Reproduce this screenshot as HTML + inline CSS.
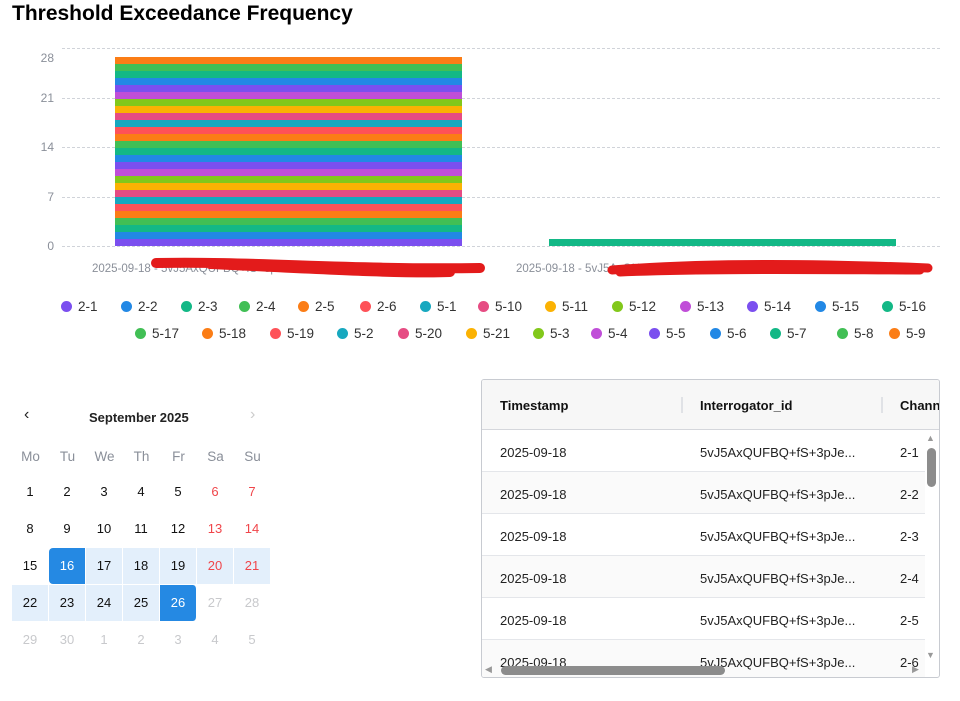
<!DOCTYPE html>
<html><head><meta charset="utf-8"><style>
*{margin:0;padding:0;box-sizing:border-box}
body{width:960px;height:701px;background:#fff;font-family:"Liberation Sans",sans-serif;position:relative;overflow:hidden;color:#222}
.a{position:absolute}
.yl{position:absolute;left:30px;width:24px;text-align:right;font-size:12px;color:#8a8f99}
.grid{position:absolute;left:62px;width:878px;border-top:1px dashed #d0d3d9}
.leg{position:absolute;font-size:13.5px;color:#333;white-space:nowrap}
.leg i{display:inline-block;width:11px;height:11px;border-radius:50%;margin-right:6px;vertical-align:-1px}
.cal{position:absolute;width:37px;height:36px;line-height:36px;text-align:center;font-size:13px}
.th{position:absolute;font-size:13px;font-weight:bold;color:#111}
.td{position:absolute;font-size:13px;color:#222}
</style></head><body>
<div class="a" style="left:12px;top:2px;font-size:21px;font-weight:bold;color:#000">Threshold Exceedance Frequency</div>

<div class="grid" style="top:48px"></div>
<div class="grid" style="top:98px"></div>
<div class="grid" style="top:147px"></div>
<div class="grid" style="top:197px"></div>
<div class="grid" style="top:246px"></div>
<div class="yl" style="top:51px">28</div>
<div class="yl" style="top:91px">21</div>
<div class="yl" style="top:140px">14</div>
<div class="yl" style="top:190px">7</div>
<div class="yl" style="top:239px">0</div>

<div class="a" id="bar" style="left:115px;top:57px;width:347px;height:189px;display:flex;flex-direction:column-reverse"></div>
<div class="a" style="left:549px;top:239px;width:347px;height:7px;background:#13b886"></div>

<div class="a" style="left:92px;top:263px;font-size:11.5px;color:#8a8f99">2025-09-18 - 5vJ5AxQUFBQ+fS+3pJe</div>
<div class="a" style="left:516px;top:263px;font-size:11.5px;color:#8a8f99">2025-09-18 - 5vJ5AxQUFBQ+fS+3pJe</div>
<svg class="a" style="left:150px;top:256px" width="800" height="30"><path d="M6 7 C100 5 200 14 330 12 M60 8 C150 12 250 18 300 16" stroke="#e31b1b" stroke-width="10" fill="none" stroke-linecap="round"/><path d="M462 14 C560 6 680 8 778 12 M470 16 C560 12 700 14 770 14" stroke="#e31b1b" stroke-width="9" fill="none" stroke-linecap="round"/></svg>

<div id="legend"></div>

<div class="a" style="left:24px;top:406px;font-size:16px">‹</div>
<div class="a" style="left:89px;top:410px;font-size:13px;font-weight:bold">September 2025</div>
<div class="a" style="left:250px;top:406px;font-size:16px;color:#ccc">›</div>
<div id="cal"></div>

<div class="a" style="left:481px;top:379px;width:459px;height:299px;border:1px solid #c8cbd1;border-radius:3px;overflow:hidden">
 <div class="a" style="left:0;top:0;width:459px;height:50px;background:#f7f7f7;border-bottom:1px solid #d5d7dc"></div>
 <div class="th" style="left:18px;top:18px">Timestamp</div>
 <div class="a" style="left:199px;top:17px;width:2px;height:16px;background:#e0e2e6"></div>
 <div class="th" style="left:218px;top:18px">Interrogator_id</div>
 <div class="a" style="left:399px;top:17px;width:2px;height:16px;background:#e0e2e6"></div>
 <div class="th" style="left:418px;top:18px">Chann</div>
 <div id="rows"></div>
 <div class="a" style="left:444px;top:53px;font-size:9px;color:#999">▲</div>
 <div class="a" style="left:445px;top:68px;width:9px;height:39px;border-radius:5px;background:#8c8c8c"></div>
 <div class="a" style="left:444px;top:270px;font-size:9px;color:#999">▼</div>
 <div class="a" style="left:3px;top:284px;font-size:9px;color:#999">◀</div>
 <div class="a" style="left:19px;top:286px;width:224px;height:9px;border-radius:5px;background:#8c8c8c"></div>
 <div class="a" style="left:430px;top:284px;font-size:9px;color:#999">▶</div>
</div>

<script>
var pal=["#7b4fef","#2288e5","#13b886","#41bf55","#fb7d16","#fe5258","#17a8bf","#e64c83","#fbb203","#82c81b","#c04ed8"];
var bar=document.getElementById('bar');
for(var i=0;i<27;i++){var d=document.createElement('div');d.style.cssText='height:7px;background:'+pal[i%11];bar.appendChild(d);}
var names=["2-1","2-2","2-3","2-4","2-5","2-6","5-1","5-10","5-11","5-12","5-13","5-14","5-15","5-16","5-17","5-18","5-19","5-2","5-20","5-21","5-3","5-4","5-5","5-6","5-7","5-8","5-9"];
var r1x=[67,127,187,245,304,366,426,484,551,618,686,753,821,888];
var r2x=[141,208,276,343,404,472,539,597,655,716,776,843,895];
var h='';
for(var i=0;i<27;i++){var x,y;if(i<14){x=r1x[i]-6;y=299}else{x=r2x[i-14]-6;y=326}
h+='<div class="leg" style="left:'+x+'px;top:'+y+'px"><i style="background:'+pal[i%11]+'"></i>'+names[i]+'</div>';}
document.getElementById('legend').innerHTML=h;
var c='';var days=["Mo","Tu","We","Th","Fr","Sa","Su"];
for(var j=0;j<7;j++)c+='<div class="cal" style="left:'+(12+37*j)+'px;top:439px;color:#8a8f99;font-size:13.5px">'+days[j]+'</div>';
var dates=[[1,2,3,4,5,6,7],[8,9,10,11,12,13,14],[15,16,17,18,19,20,21],[22,23,24,25,26,27,28],[29,30,1,2,3,4,5]];
for(var r=0;r<5;r++)for(var j=0;j<7;j++){var v=dates[r][j];var col=j>=5?'#f0454a':'#111';var bg='transparent',rad='0';
if(r==4||(r==3&&j>=5)){col='#c8c9cc'}
var inr=(r==2&&j>=1)||(r==3&&j<=4);
if(inr)bg='#e3effb';
if(r==2&&j==1){bg='#2589e3';col='#fff';rad='4px 0 0 4px'}
if(r==3&&j==4){bg='#2589e3';col='#fff';rad='0 4px 4px 0'}
c+='<div class="cal" style="left:'+(12+37*j)+'px;top:'+(474+37*r)+'px;color:'+col+';background:'+bg+';border-radius:'+rad+';border-right:1px solid #fff">'+v+'</div>';}
document.getElementById('cal').innerHTML=c;
var rw='';
for(var k=0;k<6;k++){var t=50+42*k;
rw+='<div class="a" style="left:0;top:'+t+'px;width:443px;height:42px;border-bottom:1px solid #e4e6ea;background:'+(k%2?'#fafafa':'#fff')+'"></div>';
rw+='<div class="td" style="left:18px;top:'+(t+15)+'px">2025-09-18</div><div class="td" style="left:218px;top:'+(t+15)+'px">5vJ5AxQUFBQ+fS+3pJe...</div><div class="td" style="left:418px;top:'+(t+15)+'px">2-'+(k+1)+'</div>';}
document.getElementById('rows').innerHTML=rw;
</script>
</body></html>
